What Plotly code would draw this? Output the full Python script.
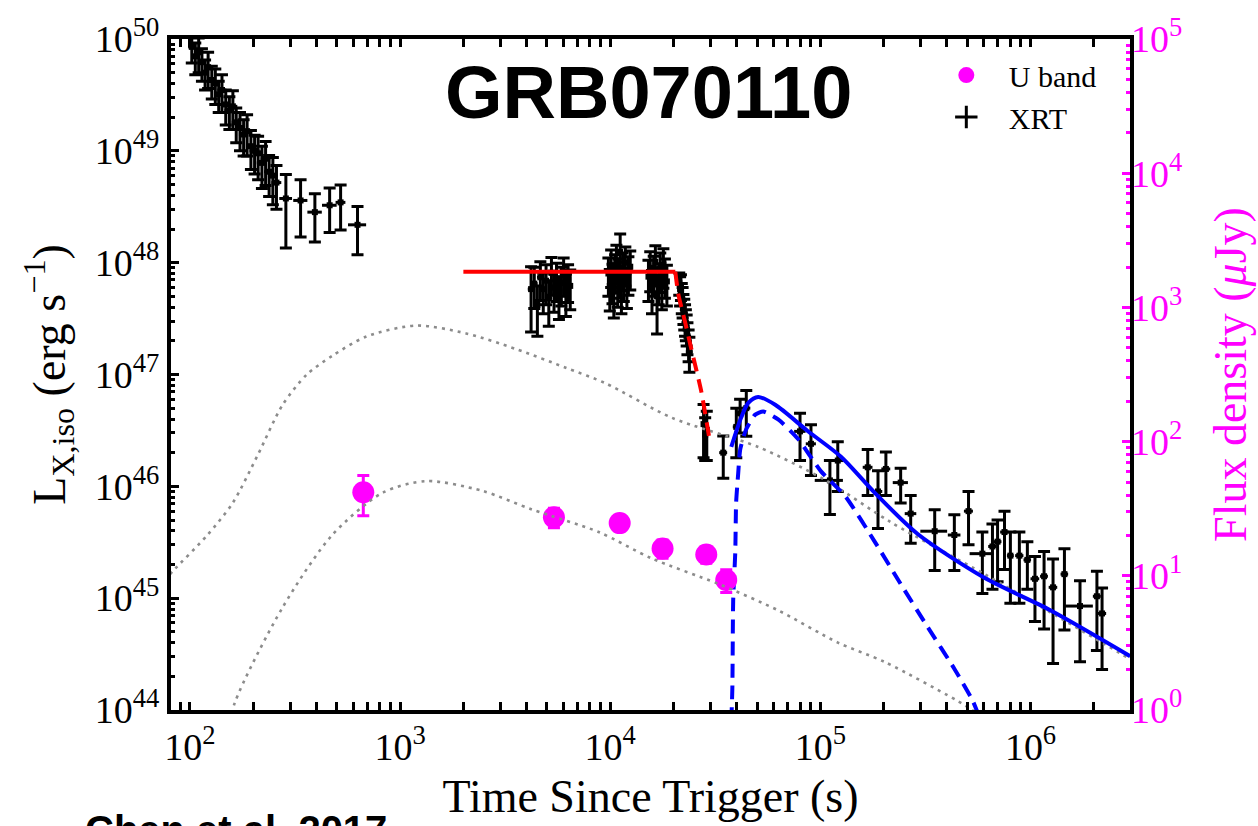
import plotly.graph_objects as go

# ---------------- XRT data (time [s], L_X,iso [erg/s], 1-sigma errors) ----------------
t_early = [102, 106, 110, 114, 118, 122, 127, 132, 137, 142, 148, 154, 160, 166, 173,
           180, 187, 195, 203, 211, 220, 229, 238, 248, 258]
L_early = [8.5e49, 7.0e49, 7.6e49, 6.2e49, 5.0e49, 5.6e49, 4.3e49, 4.0e49, 3.2e49, 3.5e49,
           2.6e49, 2.3e49, 2.5e49, 1.8e49, 1.6e49, 1.4e49, 1.5e49, 1.1e49, 1.0e49, 9.5e48,
           7.8e48, 8.5e48, 6.5e48, 6.0e48, 5.2e48]
sL_early = [2.4e49, 2.2e49, 2.6e49, 2.0e49, 1.5e49, 2.0e49, 1.4e49, 1.4e49, 1.0e49, 1.3e49,
            0.9e49, 0.75e49, 0.95e49, 0.62e49, 0.6e49, 0.5e49, 0.6e49, 0.42e49, 0.38e49, 0.4e49,
            0.32e49, 0.36e49, 0.26e49, 0.27e49, 0.22e49]
sT_early = [4, 4, 5, 5, 5, 5, 6, 6, 6, 7, 7, 8, 8, 8, 9, 9, 10, 10, 11, 11, 12, 12, 13, 13, 14]

t_mid = [286, 336, 393, 462, 521, 627]
L_mid = [3.75e48, 3.6e48, 2.83e48, 3.26e48, 3.46e48, 2.18e48]
sL_mid = [2.4e48, 1.9e48, 1.3e48, 1.4e48, 1.5e48, 1.0e48]
sT_mid = [20, 26, 31, 37, 28, 62]

tA = [4200, 4350, 4500, 4650, 4800, 4950, 5100, 5250, 5400, 5550, 5700, 5850, 6000, 6150, 6300, 6450]
LA = [5.8e47, 6.5e47, 4.2e47, 7.4e47, 5.8e47, 6.9e47, 4.8e47, 8.1e47, 6.0e47, 7.2e47, 5.3e47,
      6.6e47, 8.0e47, 5.6e47, 7.0e47, 6.2e47]
sLA = [3.4e47, 2.6e47, 2.0e47, 2.8e47, 2.3e47, 2.7e47, 2.1e47, 3.0e47, 2.4e47, 2.7e47, 2.2e47,
       2.5e47, 3.0e47, 2.3e47, 2.6e47, 2.4e47]
sTA = [150, 160, 150, 170, 160, 170, 180, 170, 180, 190, 180, 200, 190, 200, 210, 200]

tB = [9800, 9950, 10100, 10250, 10400, 10550, 10700, 10850, 11000, 11150, 11300, 11450, 11600,
      11800, 12000, 12200, 12450]
LB = [8.0e47, 6.2e47, 9.5e47, 7.0e47, 5.5e47, 8.6e47, 10.5e47, 6.6e47, 7.8e47, 12.5e47, 5.9e47,
      8.9e47, 7.3e47, 10.0e47, 6.4e47, 8.2e47, 9.2e47]
sLB = [3.0e47, 2.5e47, 3.5e47, 2.7e47, 2.3e47, 3.2e47, 3.8e47, 2.6e47, 3.0e47, 5.5e47, 2.4e47,
       3.3e47, 2.8e47, 3.8e47, 2.5e47, 3.1e47, 3.5e47]
sTB = [250, 250, 250, 260, 260, 270, 270, 280, 280, 290, 290, 300, 300, 310, 310, 320, 330]

tC = [15200, 15500, 15800, 16100, 16400, 16700, 17000, 17300, 17600, 17900, 18200, 18600]
LC = [7.5e47, 9.0e47, 6.0e47, 8.2e47, 10.2e47, 5.0e47, 7.0e47, 8.8e47, 6.4e47, 9.6e47, 7.8e47, 6.8e47]
sLC = [3.0e47, 3.5e47, 2.5e47, 3.2e47, 4.0e47, 2.7e47, 2.8e47, 3.4e47, 2.6e47, 3.7e47, 3.0e47, 2.7e47]
sTC = [400, 400, 400, 420, 420, 430, 440, 450, 450, 460, 470, 480]

tD = [21300, 21500, 21700, 21900, 22100, 22300, 22500, 22700, 22900, 23100, 23300, 23600, 23800]
LD = [6.6e47, 5.8e47, 6.2e47, 5.0e47, 4.6e47, 4.0e47, 3.6e47, 3.2e47, 2.9e47, 2.6e47, 2.2e47,
      1.9e47, 1.6e47]
sLD = [1.5e47, 1.7e47, 1.6e47, 1.5e47, 1.4e47, 1.2e47, 1.1e47, 1.0e47, 0.9e47, 0.8e47, 0.7e47,
       0.6e47, 0.55e47]
sTD = [700, 700, 700, 750, 750, 750, 800, 800, 800, 850, 850, 900, 900]

t_late = [27800, 28300, 28800, 34500, 39800, 41500, 44400, 80000, 90200, 111000, 121000,
          168000, 188000, 205000, 241000, 269000, 350000, 434000, 507000, 590000, 659000,
          697000, 752000, 802000, 885000, 966000, 1.05e6, 1.16e6, 1.28e6, 1.45e6, 1.72e6,
          2.07e6, 2.19e6]
L_late = [3.6e46, 2.9e46, 3.2e46, 2.0e46, 3.4e46, 4.5e46, 5.0e46, 3.1e46, 2.4e46, 1.13e46,
          1.7e46, 1.48e46, 9.0e45, 1.43e46, 1.08e46, 5.7e45, 3.97e45, 3.67e45, 6.0e45, 2.5e45,
          2.9e45, 3.2e45, 3.9e45, 2.4e45, 2.4e45, 2.2e45, 1.49e45, 1.57e45, 1.25e45, 1.64e45,
          8.5e44, 1.04e45, 7.3e44]
sL_late = [1.8e46, 1.2e46, 1.5e46, 0.82e46, 1.6e46, 1.5e46, 2.2e46, 1.4e46, 1.15e46, 0.57e46,
           0.8e46, 0.65e46, 4.8e45, 0.6e46, 0.37e46, 2.6e45, 2.2e45, 1.9e45, 3.0e45, 1.4e45,
           1.7e45, 1.8e45, 2.1e45, 1.5e45, 1.5e45, 1.0e45, 0.87e45, 1.04e45, 0.99e45, 1.12e45,
           5.8e44, 7.0e44, 5.0e44]
sT_late = [700, 700, 700, 1500, 1500, 1500, 2000, 5000, 5000, 17000, 8000, 9000, 9000, 10000,
           20000, 17000, 51000, 30000, 25000, 77000, 30000, 30000, 35000, 30000, 40000, 40000,
           50000, 50000, 60000, 60000, 260000, 90000, 100000]

# ---------------- U band (time [s], flux density [uJy]) ----------------
t_U = [668, 5395, 11090, 17740, 28640, 35640]
F_U = [42.0, 27.3, 24.7, 16.0, 14.4, 9.3]
sF_U = [14.0, 4.5, 3.0, 2.5, 2.0, 1.8]

# ---------------- model curves ----------------
dotA_t = [76, 83, 120, 160, 210, 276, 360, 476, 692, 1194, 2061, 3556, 6138, 9506, 19540,
          50580, 105200, 216300, 603900, 1.242e6, 2.979e6]
dotA_L = [1.44e45, 1.75e45, 3.6e45, 7.14e45, 1.9e46, 5.36e46, 1.0e47, 1.47e47, 2.19e47,
          2.74e47, 2.33e47, 1.69e47, 1.15e47, 8.34e46, 4.12e46, 2.25e46, 1.14e46, 4.78e45,
          1.64e45, 7.48e44, 2.85e44]

dotB_t = [151, 163, 276, 476, 824, 1330, 2455, 4236, 8810, 15700, 32660, 62950, 121100,
          202300, 485300, 562300]
dotB_F = [0.63, 1.12, 5.82, 20.2, 41.5, 50.8, 43.0, 31.2, 21.2, 13.5, 8.71, 5.53, 3.18, 2.28,
          1.09, 0.93]

red_t = [2.0e3, 2.04e4]
red_L = [8.3e47, 8.3e47]
redd_t = [2.04e4, 21090, 22800, 24320, 27160, 29650]
redd_L = [8.3e47, 5.21e47, 2.85e47, 1.69e47, 6.95e46, 2.65e46]

blue_t = [37670, 41980, 45390, 50580, 60950, 87300, 125300, 181600, 290400, 603900, 1.242e6, 2.979e6]
blue_L = [2.25e46, 4.12e46, 5.57e46, 6.30e46, 5.36e46, 3.11e46, 1.84e46, 8.75e45, 3.75e45,
          1.52e45, 7.80e44, 3.03e44]

blued_t = [37670, 38110, 38460, 39360, 39720, 40640, 41590, 44360, 48980, 53460, 62950, 78340,
           100700, 130900, 181600, 241000, 323600, 434500, 529700, 562300]
blued_L = [7.9e43, 1.56e44, 9.53e44, 2.61e45, 7.14e45, 1.31e46, 2.16e46, 3.24e46, 4.38e46,
           4.66e46, 3.96e46, 2.65e46, 1.36e46, 8.22e45, 3.19e45, 1.34e45, 5.53e44, 2.33e44,
           1.22e44, 9.3e43]

# ---------------- ticks ----------------
x_tickvals = [1e2, 1e3, 1e4, 1e5, 1e6]
x_ticktext = ['10<sup>2</sup>', '10<sup>3</sup>', '10<sup>4</sup>', '10<sup>5</sup>', '10<sup>6</sup>']
yl_tickvals = [1e44, 1e45, 1e46, 1e47, 1e48, 1e49, 1e50]
yl_ticktext = ['10<sup>44</sup>', '10<sup>45</sup>', '10<sup>46</sup>', '10<sup>47</sup>',
               '10<sup>48</sup>', '10<sup>49</sup>', '10<sup>50</sup>']
yr_tickvals = [1e0, 1e1, 1e2, 1e3, 1e4, 1e5]
yr_ticktext = ['10<sup>0</sup>', '10<sup>1</sup>', '10<sup>2</sup>', '10<sup>3</sup>',
               '10<sup>4</sup>', '10<sup>5</sup>']


def minor_vals(e0, e1):
    return [m * 10.0 ** e for e in range(e0, e1) for m in range(2, 10)]


SERIF = 'Liberation Serif'
MAG = '#ff00ff'

fig = go.Figure()

# U band (first -> first legend entry)
fig.add_trace(go.Scatter(
    x=t_U, y=F_U, mode='markers', name='U band', yaxis='y2',
    marker=dict(color=MAG, size=22, line=dict(width=0)),
    error_y=dict(type='data', array=sF_U, color=MAG, thickness=3, width=6),
))

# XRT legend entry
fig.add_trace(go.Scatter(
    x=[None], y=[None], mode='markers', name='XRT',
    marker=dict(symbol='cross-thin-open', size=16, color='black', line=dict(width=3, color='black')),
))

t_x = t_early + t_mid + tA + tB + tC + tD + t_late
L_x = L_early + L_mid + LA + LB + LC + LD + L_late
sL_x = sL_early + sL_mid + sLA + sLB + sLC + sLD + sL_late
sT_x = sT_early + sT_mid + sTA + sTB + sTC + sTD + sT_late

fig.add_trace(go.Scatter(
    x=t_x, y=L_x, mode='markers', name='XRT data', showlegend=False,
    marker=dict(color='black', size=6, symbol='square'),
    error_y=dict(type='data', array=sL_x, color='black', thickness=3, width=6),
    error_x=dict(type='data', array=sT_x, color='black', thickness=3, width=0),
))

dotted = dict(color='#8c8c8c', width=2.6, dash='3px,5px', shape='spline', smoothing=0.8)
fig.add_trace(go.Scatter(x=dotA_t, y=dotA_L, mode='lines', line=dotted, showlegend=False))
fig.add_trace(go.Scatter(x=red_t, y=red_L, mode='lines', line=dict(color='#ff0000', width=4),
                         showlegend=False))
fig.add_trace(go.Scatter(x=redd_t, y=redd_L, mode='lines',
                         line=dict(color='#ff0000', width=4, dash='14px,8px', shape='spline',
                                   smoothing=0.6),
                         showlegend=False))
fig.add_trace(go.Scatter(x=blue_t, y=blue_L, mode='lines',
                         line=dict(color='#0000ff', width=4, shape='spline', smoothing=0.8),
                         showlegend=False))
fig.add_trace(go.Scatter(x=blued_t, y=blued_L, mode='lines',
                         line=dict(color='#0000ff', width=4, dash='14px,8px', shape='spline',
                                   smoothing=0.6),
                         showlegend=False))
fig.add_trace(go.Scatter(x=dotB_t, y=dotB_F, mode='lines', line=dotted, yaxis='y2',
                         showlegend=False))

axis_common = dict(type='log', showgrid=False, zeroline=False, ticks='inside')

fig.update_layout(
    width=1258, height=826,
    margin=dict(l=171, r=125, t=36, b=104),
    paper_bgcolor='white', plot_bgcolor='white',
    font=dict(family=SERIF, color='black', size=38),
    xaxis=dict(
        **axis_common, range=[1.9097, 6.4734],
        tickvals=x_tickvals, ticktext=x_ticktext,
        ticklen=8, tickwidth=3, tickcolor='black',
        showline=True, linecolor='black', linewidth=4, mirror='allticks',
        tickfont=dict(family=SERIF, size=38),
        minor=dict(ticks='inside', tickvals=minor_vals(1, 7), ticklen=4, tickwidth=3,
                   tickcolor='black'),
        title=dict(text='Time Since Trigger (s)', font=dict(family=SERIF, size=46), standoff=14),
    ),
    yaxis=dict(
        **axis_common, range=[44, 50],
        tickvals=yl_tickvals, ticktext=yl_ticktext,
        ticklen=8, tickwidth=3, tickcolor='black',
        showline=True, linecolor='black', linewidth=4, mirror=True,
        tickfont=dict(family=SERIF, size=38),
        minor=dict(ticks='inside', tickvals=minor_vals(44, 50), ticklen=4, tickwidth=3,
                   tickcolor='black'),
        title=dict(text='L<sub>X,iso</sub> (erg s<sup>\u22121</sup>)',
                   font=dict(family=SERIF, size=46), standoff=16),
    ),
    yaxis2=dict(
        **axis_common, range=[0, 5], overlaying='y', side='right',
        tickvals=yr_tickvals, ticktext=yr_ticktext,
        ticklen=8, tickwidth=3, tickcolor=MAG, showline=False,
        tickfont=dict(family=SERIF, size=38, color=MAG),
        minor=dict(ticks='inside', tickvals=minor_vals(0, 5), ticklen=4, tickwidth=3,
                   tickcolor=MAG),
        title=dict(text='Flux density (<i>\u03bc</i>Jy)', font=dict(family=SERIF, size=46, color=MAG),
                   standoff=32),
    ),
    legend=dict(x=0.785, y=0.985, xanchor='left', yanchor='top', bgcolor='rgba(0,0,0,0)',
                font=dict(family=SERIF, size=30), itemwidth=75, tracegroupgap=0),
    annotations=[
        dict(text='<b>GRB070110</b>', x=0.498, y=0.92, xref='paper', yref='paper',
             xanchor='center', yanchor='middle', showarrow=False,
             font=dict(family='Liberation Sans', size=74, color='black')),
        dict(text='<b>Chen et al. 2017</b>', x=-0.0915, y=-0.143, xref='paper', yref='paper',
             xanchor='left', yanchor='top', showarrow=False,
             font=dict(family='Liberation Sans', size=40, color='black')),
    ],
)

fig.write_html('out.html')
